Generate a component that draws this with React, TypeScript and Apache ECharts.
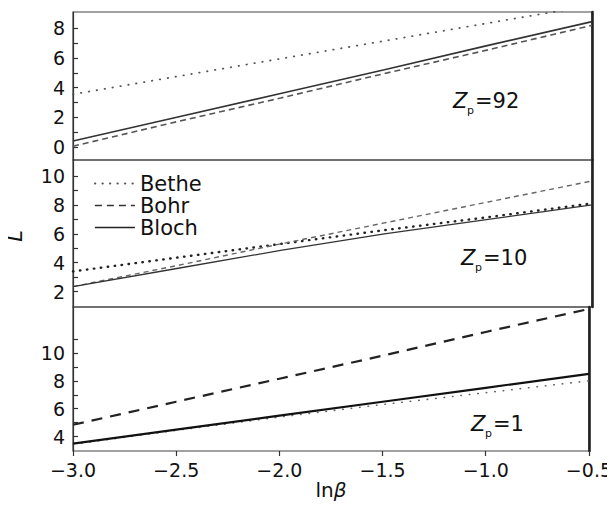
import React, { useEffect, useRef } from "react";
import * as echarts from "echarts";

// ln(beta) sample positions shared by all curves
const lnBeta = [-3.0, -2.5, -2.0, -1.5, -1.0, -0.5];

// Panel Zp = 92
const bethe92 = [3.55, 4.75, 5.95, 7.15, 8.35, 9.55];
const bohr92 = [0.05, 1.7, 3.3, 4.95, 6.55, 8.2];
const bloch92 = [0.4, 2.0, 3.6, 5.2, 6.85, 8.45];

// Panel Zp = 10
const bethe10 = [3.4, 4.35, 5.3, 6.25, 7.15, 8.1];
const bohr10 = [2.35, 3.8, 5.3, 6.75, 8.2, 9.65];
const bloch10 = [2.35, 3.6, 4.85, 6.0, 7.0, 8.0];

// Panel Zp = 1
const bethe1 = [3.45, 4.45, 5.4, 6.3, 7.15, 8.0];
const bohr1 = [4.85, 6.5, 8.15, 9.8, 11.5, 13.15];
const bloch1 = [3.5, 4.5, 5.5, 6.5, 7.5, 8.5];

// Tick values
const xTicks = [-3.0, -2.5, -2.0, -1.5, -1.0, -0.5];
const yLabels92 = [0, 2, 4, 6, 8];
const yTicks92 = [0, 1, 2, 3, 4, 5, 6, 7, 8];
const yLabels10 = [2, 4, 6, 8, 10];
const yTicks10 = [2, 3, 4, 5, 6, 7, 8, 9, 10];
const yLabels1 = [4, 6, 8, 10];
const yTicks1 = [4, 5, 6, 7, 8, 9, 10, 11];

const legendNames = ["Bethe", "Bohr", "Bloch"];
const panelLabels = ["92", "10", "1"];

const FONT = "DejaVu Sans";

export default function App() {
  const ref = useRef<HTMLDivElement>(null);

  useEffect(() => {
    if (!ref.current) return;
    const chart = echarts.init(ref.current, undefined, { renderer: "svg" });

    const grids = [
      { left: 73, right: 23, top: 12, height: 148 },
      { left: 73, right: 23, top: 160, height: 147 },
      { left: 73, right: 23, top: 307, height: 144 },
    ];
    const ranges = [
      [-0.88, 9.1],
      [0.94, 11.1],
      [2.97, 13.29],
    ];
    const labelVals = [yLabels92, yLabels10, yLabels1];
    const tickVals = [yTicks92, yTicks10, yTicks1];

    const yAxes: any[] = [];
    ranges.forEach((r, i) => {
      yAxes.push({
        type: "value",
        gridIndex: i,
        min: r[0],
        max: r[1],
        position: "left",
        splitLine: { show: false },
        axisLine: { show: true, onZero: false, lineStyle: { color: "#333", width: 1.2 } },
        axisTick: {
          show: true,
          inside: true,
          length: 5,
          customValues: tickVals[i],
          lineStyle: { color: "#333", width: 1.2 },
        },
        axisLabel: {
          customValues: labelVals[i],
          fontFamily: FONT,
          fontSize: 19,
          color: "#111",
          margin: 8,
        },
      });
      yAxes.push({
        type: "value",
        gridIndex: i,
        min: r[0],
        max: r[1],
        position: "right",
        splitLine: { show: false },
        axisLine: { show: true, onZero: false, lineStyle: { color: "#222", width: 2.6 } },
        axisTick: { show: false },
        axisLabel: { show: false },
      });
    });

    const xAxes: any[] = [0, 1, 2].map((i) => ({
      type: "value",
      gridIndex: i,
      min: -3,
      max: -0.5,
      interval: 0.5,
      show: i === 2,
      splitLine: { show: false },
      axisLine: { show: false, onZero: false },
      axisTick: {
        show: i === 2,
        inside: false,
        length: 5,
        customValues: xTicks,
        lineStyle: { color: "#333", width: 1.2 },
      },
      axisLabel: {
        show: i === 2,
        customValues: xTicks,
        fontFamily: FONT,
        fontSize: 19,
        color: "#111",
        margin: 9,
        formatter: (v: number) => (v < 0 ? "\u2212" : "") + Math.abs(v).toFixed(1),
      },
      name: i === 2 ? "{a|ln}{b|\u03b2}" : "",
      nameLocation: "middle",
      nameGap: 29,
      nameTextStyle: {
        rich: {
          a: { fontFamily: FONT, fontSize: 20, color: "#111" },
          b: { fontFamily: FONT, fontSize: 20, fontStyle: "italic", color: "#111" },
        },
      },
    }));

    const toPts = (ys: number[]) => lnBeta.map((x, k) => [x, ys[k]]);

    const styles = [
      [
        { name: "Bethe", d: bethe92, c: "#555", w: 1.8, t: [0.5, 7.5], cap: "round" },
        { name: "Bohr", d: bohr92, c: "#555", w: 1.6, t: [6, 4], cap: "butt" },
        { name: "Bloch", d: bloch92, c: "#333", w: 1.6, t: "solid", cap: "butt" },
      ],
      [
        { name: "Bethe", d: bethe10, c: "#222", w: 2.4, t: [0.5, 6.5], cap: "round" },
        { name: "Bohr", d: bohr10, c: "#666", w: 1.4, t: [5, 4], cap: "butt" },
        { name: "Bloch", d: bloch10, c: "#333", w: 1.3, t: "solid", cap: "butt" },
      ],
      [
        { name: "Bethe", d: bethe1, c: "#666", w: 1.6, t: [0.5, 8], cap: "round" },
        { name: "Bohr", d: bohr1, c: "#222", w: 2.2, t: [11, 8], cap: "butt" },
        { name: "Bloch", d: bloch1, c: "#111", w: 2.2, t: "solid", cap: "butt" },
      ],
    ];

    const series: any[] = [];
    styles.forEach((panel, i) => {
      panel.forEach((s) => {
        series.push({
          type: "line",
          name: s.name,
          xAxisIndex: i,
          yAxisIndex: i * 2,
          data: toPts(s.d),
          symbol: "none",
          clip: true,
          lineStyle: { color: s.c, width: s.w, type: s.t, cap: s.cap },
          itemStyle: { color: s.c },
        });
      });
    });

    const zLabel = (x: number, y: number, num: string) => ({
      type: "group",
      x,
      y,
      children: [
        {
          type: "text",
          x: 0,
          y: 0,
          style: {
            text: "Z",
            font: `italic 21px "${FONT}"`,
            fill: "#111",
            textAlign: "left",
            textVerticalAlign: "middle",
          },
        },
        {
          type: "text",
          x: 14,
          y: 9,
          style: {
            text: "p",
            font: `11px "${FONT}"`,
            fill: "#111",
            textAlign: "left",
            textVerticalAlign: "middle",
          },
        },
        {
          type: "text",
          x: 22,
          y: 0,
          style: {
            text: "=" + num,
            font: `21px "${FONT}"`,
            fill: "#111",
            textAlign: "left",
            textVerticalAlign: "middle",
          },
        },
      ],
    });

    chart.setOption({
      animation: false,
      backgroundColor: "#fff",
      textStyle: { fontFamily: FONT },
      grid: grids.map((g) => ({
        ...g,
        show: true,
        borderColor: "#444",
        borderWidth: 1.2,
        backgroundColor: "transparent",
        containLabel: false,
      })),
      xAxis: xAxes,
      yAxis: yAxes,
      legend: {
        show: true,
        orient: "vertical",
        left: 94,
        top: 173,
        padding: 0,
        itemGap: 1,
        itemWidth: 40,
        itemHeight: 14,
        selectedMode: false,
        itemStyle: { opacity: 0 },
        textStyle: { fontFamily: FONT, fontSize: 21, color: "#111" },
        data: [
          {
            name: legendNames[0],
            itemStyle: { opacity: 0 },
            lineStyle: { color: "#555", width: 1.8, type: [0.5, 7], cap: "round" },
          },
          {
            name: legendNames[1],
            itemStyle: { opacity: 0 },
            lineStyle: { color: "#333", width: 1.6, type: [7, 5] },
          },
          {
            name: legendNames[2],
            itemStyle: { opacity: 0 },
            lineStyle: { color: "#222", width: 1.6, type: "solid" },
          },
        ],
      },
      graphic: [
        {
          type: "text",
          x: 15,
          y: 236,
          rotation: Math.PI / 2,
          style: {
            text: "L",
            font: `italic 21px "${FONT}"`,
            fill: "#111",
            textAlign: "center",
            textVerticalAlign: "middle",
          },
        },
        zLabel(453, 101, panelLabels[0]),
        zLabel(461, 258, panelLabels[1]),
        zLabel(471, 424, panelLabels[2]),
      ],
      series,
    });

    return () => chart.dispose();
  }, []);

  return <div ref={ref} style={{ width: 615, height: 512, margin: -8 }} />;
}
